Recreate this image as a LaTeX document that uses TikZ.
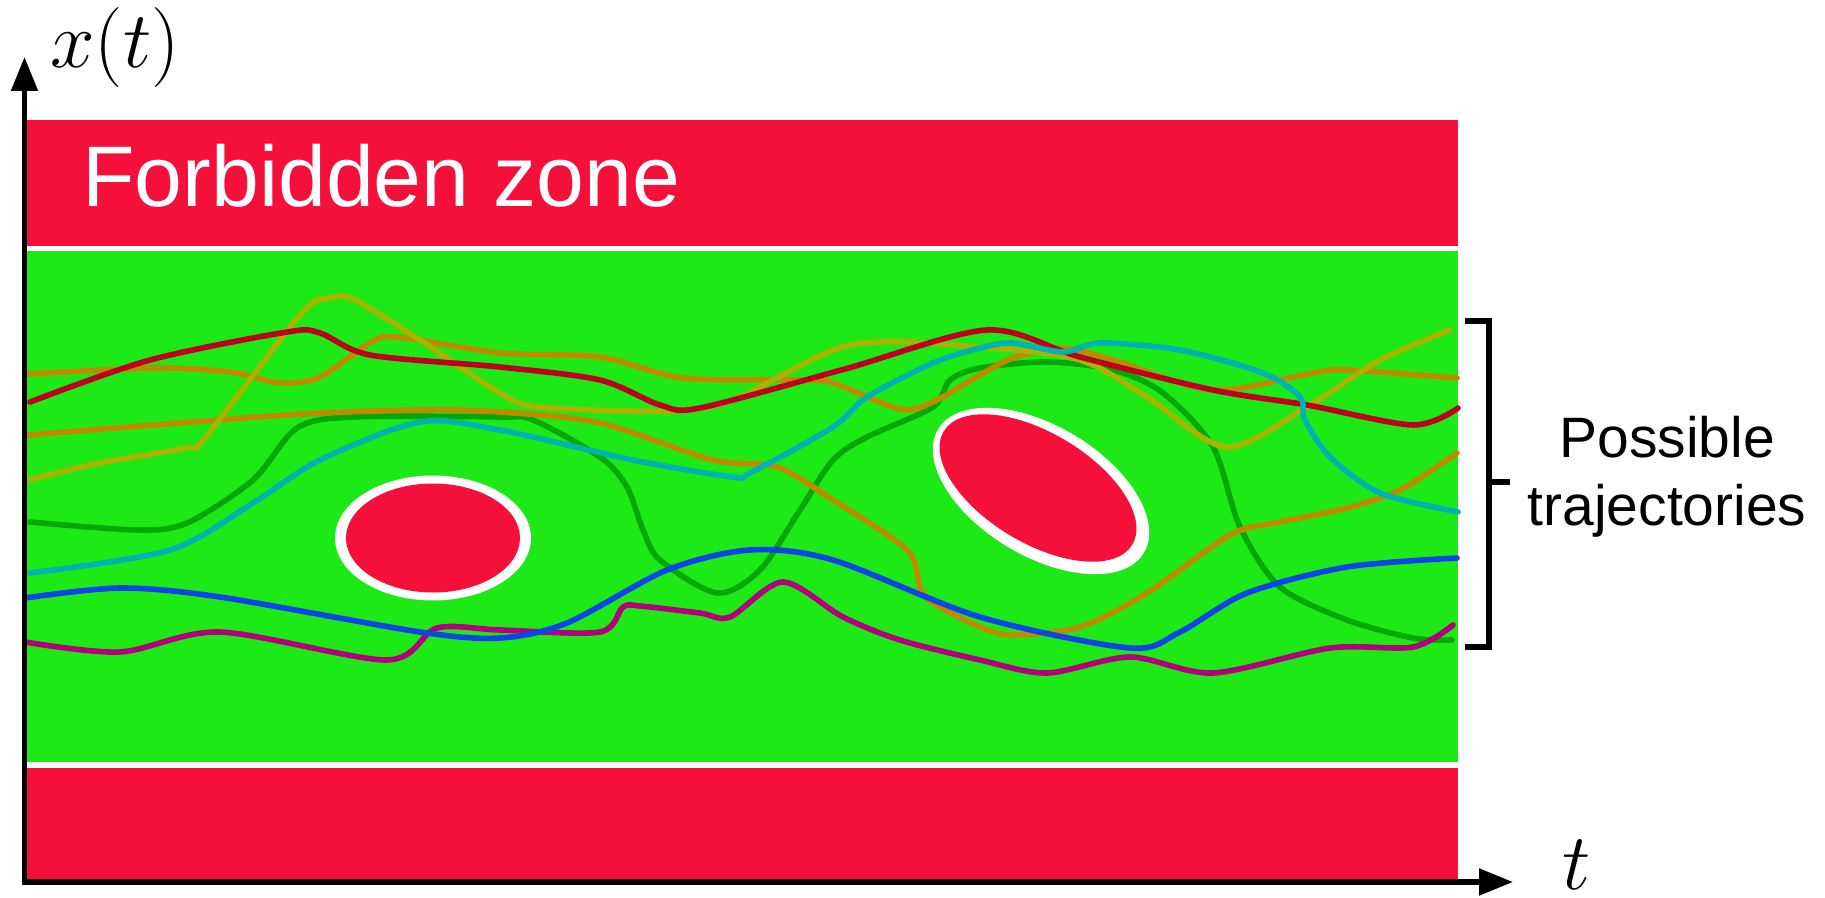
\documentclass[tikz,border=0pt]{standalone}
\usepackage{fix-cm}
\usepackage[no-math]{fontspec}
\newfontfamily\arialfont{Liberation Sans}
\usetikzlibrary{arrows.meta}
\definecolor{bandred}{RGB}{245,16,60}
\definecolor{zonegreen}{RGB}{28,233,22}
\definecolor{trred}{RGB}{192,0,32}
\definecolor{trorange}{RGB}{191,138,0}
\definecolor{trolive}{RGB}{168,180,0}
\definecolor{trgreen}{RGB}{0,168,0}
\definecolor{trcyan}{RGB}{0,178,178}
\definecolor{trblue}{RGB}{15,69,230}
\definecolor{trmagenta}{RGB}{180,0,127}
\tikzset{
  traj/.style={line width=2.8pt, line cap=round, line join=round},
  axisline/.style={line width=2.6pt, line join=miter},
  bracketline/.style={line width=2.6pt, line join=miter},
  obstacle/.style={fill=bandred},
  obstacleedge/.style={fill=white},
}
\begin{document}
\begin{tikzpicture}[x=0.5pt,y=-0.5pt]
\useasboundingbox (0,0) rectangle (1825,898);
\fill[white] (0,0) rectangle (1825,898);
% bands
\fill[bandred] (27,120) rectangle (1458,246);
\fill[zonegreen] (27,251) rectangle (1458,762);
\fill[bandred] (27,768) rectangle (1458,879);
% obstacles
\fill[obstacleedge] (433,538) ellipse [x radius=49pt, y radius=31.25pt];
\fill[obstacle] (433,538) ellipse [x radius=43.5pt, y radius=27.25pt];
\begin{scope}[shift={(1041,491)}]
\fill[obstacleedge,rotate=-31] (0,0) ellipse [x radius=60pt, y radius=32.5pt];
\end{scope}
\begin{scope}[shift={(1038,488)}]
\fill[obstacle,rotate=-31] (0,0) ellipse [x radius=55pt, y radius=27.5pt];
\end{scope}
% trajectories
\draw[traj,trgreen] plot[smooth] coordinates {(30,522) (137,530) (187,523) (253,480) (297,428) (353,417) (500,417) (533,420) (600,457) (627,487) (643,530) (660,560) (717,593) (760,570) (800,510) (833,460) (867,437) (933,407) (950,380) (980,368) (1047,362) (1113,370) (1163,393) (1213,447) (1240,527) (1280,587) (1347,620) (1413,638) (1452,640)};
\draw[traj,trorange] plot[smooth] coordinates {(28,374) (153,368) (230,372) (280,383) (320,377) (370,343) (397,337) (500,353) (600,357) (683,378) (800,380) (833,383) (900,409) (933,402) (980,375) (1013,358) (1063,348) (1113,360) (1213,390) (1313,373) (1347,370) (1457,378)};
\draw[traj,trorange] plot[smooth] coordinates {(28,435) (287,415) (420,410) (500,412) (600,423) (713,460) (777,467) (833,500) (907,550) (920,587) (933,603) (980,627) (1013,635) (1080,627) (1147,593) (1230,535) (1280,522) (1347,508) (1400,490) (1457,453)};
\draw[traj,trolive] plot[smooth] coordinates {(28,480) (100,463) (185,448) (205,438) (300,315) (330,298) (355,300) (420,340) (500,393) (540,407) (667,411) (733,400) (850,345) (980,347) (1080,360) (1147,397) (1227,447) (1313,403) (1380,360) (1450,330)};
\draw[traj,trred] plot[smooth] coordinates {(30,402) (150,360) (287,332) (320,333) (370,355) (500,367) (600,380) (660,405) (700,408) (845,369) (987,330) (1080,357) (1213,390) (1307,405) (1413,425) (1458,408)};
\draw[traj,trcyan] plot[smooth] coordinates {(30,573) (170,550) (253,503) (320,460) (420,422) (500,430) (633,460) (733,477) (750,473) (833,427) (867,397) (933,363) (980,348) (1013,343) (1063,352) (1100,343) (1180,350) (1263,373) (1300,397) (1305,420) (1330,457) (1380,493) (1458,512)};
\draw[traj,trmagenta] plot[smooth] coordinates {(25,642) (120,652) (220,632) (387,660) (437,628) (500,630) (600,632) (623,607) (640,606) (700,613) (730,617) (783,582) (843,617) (900,640) (980,660) (1047,673) (1130,657) (1213,673) (1330,648) (1413,647) (1453,625)};
\draw[traj,trblue] plot[smooth] coordinates {(25,598) (120,588) (220,597) (420,632) (500,638) (567,623) (667,570) (750,550) (833,560) (980,617) (1130,648) (1180,632) (1247,593) (1347,567) (1457,558)};
% axes
\coordinate (ytip) at (24.5,57);
\coordinate (origin) at (24.5,882);
\coordinate (xtip) at (1513,882);
\draw[axisline,{Triangle[length=17pt,width=13pt]}-{Triangle[length=17pt,width=13pt]}] (ytip) -- (origin) -- (xtip);
\node[anchor=base west, inner sep=0pt, font=\fontsize{40}{44}\selectfont] (ylabel) at (50,68) {$x(t)$};
\node[anchor=base, inner sep=0pt, font=\fontsize{40}{44}\selectfont] (xlabel) at (1577,889) {$t$};
% texts
\node[anchor=base west, inner sep=0pt, text=white, font=\arialfont\fontsize{43}{50}\selectfont] (fz) at (82,207) {Forbidden zone};
\coordinate (bt) at (1465,321);
\coordinate (bb) at (1465,647);
\draw[bracketline] (bt) -- (1489,321) -- (1489,647) -- (bb);
\draw[bracketline] (1489,482) -- (1510,482);
\node[anchor=base, inner sep=0pt, font=\arialfont\fontsize{28.5}{34}\selectfont] (pos) at (1667,458) {Possible};
\node[anchor=base, inner sep=0pt, font=\arialfont\fontsize{28.5}{34}\selectfont] (traj) at (1667,525) {trajectories};
\end{tikzpicture}
\end{document}
